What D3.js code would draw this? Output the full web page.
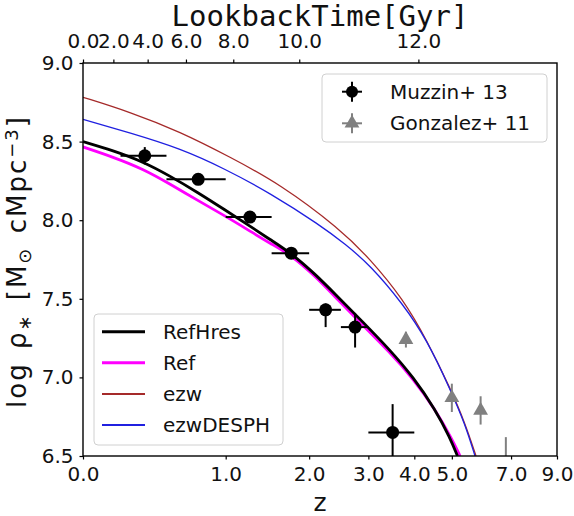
<!DOCTYPE html>
<html><head><meta charset="utf-8">
<script src="https://cdn.jsdelivr.net/npm/d3@7"></script>
<style>body{margin:0;background:#fff}text{font-family:"DejaVu Sans",sans-serif}</style>
</head><body>
<svg id="c" width="574" height="516"></svg>
<script>
// ---- data ----
const muzzinZ   = [0.35, 0.75, 1.25, 1.75, 2.25, 2.75, 3.5];
const muzzinZlo = [0.2, 0.5, 1.0, 1.5, 2.0, 2.5, 3.0];
const muzzinZhi = [0.5, 1.0, 1.5, 2.0, 2.5, 3.0, 4.0];
const muzzinV   = [8.41, 8.26, 8.02, 7.79, 7.43, 7.32, 6.65];
const muzzinUp  = [0.055, 0.03, 0.03, 0.03, 0.04, 0.09, 0.18];
const muzzinDn  = [0.055, 0.03, 0.03, 0.03, 0.11, 0.13, 0.25];

const gonzZ   = [3.8, 5.0, 5.9, 6.8];
const gonzV   = [7.24, 6.87, 6.79, 6.42];
const gonzErr = [0.05, 0.09, 0.09, 0.2];

const refhresZ = [0, 0.157, 0.339, 0.526, 0.748, 0.994, 1.25, 1.48, 1.747, 2.087, 2.435, 2.896, 3.444, 3.968, 4.53, 4.949, 5.166];
const refhresV = [8.50, 8.443, 8.372, 8.281, 8.176, 8.065, 7.963, 7.877, 7.791, 7.658, 7.518, 7.352, 7.174, 7.004, 6.799, 6.615, 6.5];
const refZ = [0, 0.157, 0.339, 0.526, 0.748, 0.994, 1.25, 1.48, 1.747, 2.087, 2.435, 2.896, 3.444, 3.968, 4.53, 5.005, 5.245];
const refV = [8.466, 8.402, 8.326, 8.230, 8.125, 8.027, 7.931, 7.853, 7.779, 7.645, 7.499, 7.330, 7.158, 6.993, 6.799, 6.608, 6.5];
const ezwZ = [0, 0.2563, 0.602, 1.042, 1.604, 2.485, 3.033, 3.733, 4.318, 4.949, 5.397, 5.747];
const ezwV = [8.782, 8.688, 8.563, 8.402, 8.230, 7.944, 7.753, 7.499, 7.235, 6.933, 6.710, 6.5];
const ezwdZ = [0, 0.2563, 0.602, 0.994, 1.480, 2.162, 2.571, 3.033, 3.733, 4.318, 4.949, 5.397, 5.714];
const ezwdV = [8.642, 8.555, 8.457, 8.326, 8.173, 7.969, 7.849, 7.715, 7.467, 7.238, 6.926, 6.704, 6.5];

const zTicks = [0, 1, 2, 3, 4, 5, 7, 9];
const zTickLabels = ["0.0", "1.0", "2.0", "3.0", "4.0", "5.0", "7.0", "9.0"];
const yTicks = [6.5, 7.0, 7.5, 8.0, 8.5, 9.0];
const lookbackZ = [0, 0.159, 0.369, 0.649, 1.075, 1.859, 4.10];
const lookbackLabels = ["0.0", "2.0", "4.0", "6.0", "8.0", "10.0", "12.0"];

const seriesNames = ["RefHres", "Ref", "ezw", "ezwDESPH"];
const pointNames = ["Muzzin+ 13", "Gonzalez+ 11"];

// ---- layout ----
const L = 83, R = 557, T = 63, B = 456;
const svg = d3.select("#c");
const xl = d3.scaleLog().domain([1, 10]).range([L, R]);
const X = z => xl(1 + z);
const Y = d3.scaleLinear().domain([6.5, 9.0]).range([B, T]);

svg.append("defs").append("clipPath").attr("id", "clip")
  .append("rect").attr("x", L).attr("y", T).attr("width", R - L).attr("height", B - T);

const plot = svg.append("g").attr("clip-path", "url(#clip)");

const lineGen = d3.line().x(d => X(d[0])).y(d => Y(d[1])).curve(d3.curveBasis);
const lines = [
  {z: ezwZ, v: ezwV, color: "#a52a2a", w: 1.3},
  {z: ezwdZ, v: ezwdV, color: "#2020e0", w: 1.3},
  {z: refZ, v: refV, color: "#ff00ff", w: 2.8},
  {z: refhresZ, v: refhresV, color: "#000", w: 2.8},
];
lines.forEach(s => {
  plot.append("path").datum(s.z.map((z, i) => [z, s.v[i]]))
    .attr("d", lineGen).attr("fill", "none").attr("stroke", s.color).attr("stroke-width", s.w);
});

// Muzzin points
muzzinZ.forEach((z, i) => {
  const g = plot.append("g");
  g.append("line").attr("x1", X(muzzinZlo[i])).attr("x2", X(muzzinZhi[i]))
    .attr("y1", Y(muzzinV[i])).attr("y2", Y(muzzinV[i])).attr("stroke", "#000").attr("stroke-width", 2);
  g.append("line").attr("x1", X(z)).attr("x2", X(z))
    .attr("y1", Y(muzzinV[i] + muzzinUp[i])).attr("y2", Y(muzzinV[i] - muzzinDn[i])).attr("stroke", "#000").attr("stroke-width", 2);
  g.append("circle").attr("cx", X(z)).attr("cy", Y(muzzinV[i])).attr("r", 6.5).attr("fill", "#000");
});
// Gonzalez points
const tri = d3.symbol().type(d3.symbolTriangle).size(95);
gonzZ.forEach((z, i) => {
  plot.append("line").attr("x1", X(z)).attr("x2", X(z))
    .attr("y1", Y(gonzV[i] + gonzErr[i])).attr("y2", Y(gonzV[i] - gonzErr[i])).attr("stroke", "#808080").attr("stroke-width", 2);
  plot.append("path").attr("d", tri).attr("transform", `translate(${X(z)},${Y(gonzV[i])})`).attr("fill", "#808080");
});

// ---- axes ----
const fs = "20px";
const ax = (g) => { g.select(".domain").remove(); g.selectAll("line").attr("stroke", "#000").attr("stroke-width", 1.2); g.selectAll("text").style("font-size", fs).attr("fill", "#111"); };
svg.append("g").attr("transform", `translate(0,${B})`)
  .call(d3.axisBottom(xl).tickValues(zTicks.map(z => 1 + z)).tickFormat((d, i) => zTickLabels[i]).tickSize(3.5).tickPadding(7.5))
  .call(ax);
svg.append("g").attr("transform", `translate(0,${T})`)
  .call(d3.axisTop(xl).tickValues(lookbackZ.map(z => 1 + z)).tickFormat((d, i) => lookbackLabels[i]).tickSize(3.5).tickPadding(11.5))
  .call(ax);
svg.append("g").attr("transform", `translate(${L},0)`)
  .call(d3.axisLeft(Y).tickValues(yTicks).tickFormat(d3.format(".1f")).tickSize(3.5).tickPadding(6))
  .call(ax);

svg.append("rect").attr("x", L).attr("y", T).attr("width", R - L).attr("height", B - T)
  .attr("fill", "none").attr("stroke", "#000").attr("stroke-width", 1.4);

// axis titles
svg.append("text").attr("x", (L + R) / 2).attr("y", 26).attr("text-anchor", "middle")
  .style("font-family", "'DejaVu Sans Mono', monospace").style("font-size", "29px").attr("fill", "#111")
  .text("LookbackTime[Gyr]");
svg.append("text").attr("x", (L + R) / 2).attr("y", 511).attr("text-anchor", "middle")
  .style("font-size", "25px").attr("fill", "#111").text("z");
const yl = svg.append("text").attr("transform", `translate(26,${(T + B) / 2 + 2}) rotate(-90)`)
  .attr("text-anchor", "middle").style("font-size", "26px").style("letter-spacing", "2px").style("word-spacing", "3px").attr("fill", "#111");
yl.append("tspan").text("log ρ");
yl.append("tspan").attr("dy", 5).style("font-size", "18px").text("∗");
yl.append("tspan").attr("dy", -5).text(" [M");
yl.append("tspan").attr("dy", 5).style("font-size", "18px").text("⊙");
yl.append("tspan").attr("dy", -5).text(" cMpc");
yl.append("tspan").attr("dy", -8).style("font-size", "18px").text("−3");
yl.append("tspan").attr("dy", 8).text("]");

// ---- legend 1 (points) ----
const lg1 = svg.append("g");
lg1.append("rect").attr("x", 322).attr("y", 74).attr("width", 225).attr("height", 68).attr("rx", 4)
  .attr("fill", "rgba(255,255,255,0.8)").attr("stroke", "#d0d0d0");
[0, 1].forEach(i => {
  const cy = 91.7 + i * 31.6, cx = 352;
  const col = i === 0 ? "#000" : "#808080";
  lg1.append("line").attr("x1", cx - 10).attr("x2", cx + 10).attr("y1", cy).attr("y2", cy).attr("stroke", col).attr("stroke-width", 2);
  lg1.append("line").attr("x1", cx).attr("x2", cx).attr("y1", cy - 10).attr("y2", cy + 10).attr("stroke", col).attr("stroke-width", 2);
  if (i === 0) lg1.append("circle").attr("cx", cx).attr("cy", cy).attr("r", 6).attr("fill", col);
  else lg1.append("path").attr("d", tri).attr("transform", `translate(${cx},${cy})`).attr("fill", col);
  lg1.append("text").attr("x", 390).attr("y", cy + 7).style("font-size", fs).attr("fill", "#111").text(pointNames[i]);
});

// ---- legend 2 (lines) ----
const lg2 = svg.append("g");
lg2.append("rect").attr("x", 94).attr("y", 314).attr("width", 189).attr("height", 131).attr("rx", 4)
  .attr("fill", "rgba(255,255,255,0.8)").attr("stroke", "#d0d0d0");
const legLines = [lines[3], lines[2], lines[0], lines[1]];
seriesNames.forEach((n, i) => {
  const cy = 331.7 + i * 31.1;
  lg2.append("line").attr("x1", 102).attr("x2", 145).attr("y1", cy).attr("y2", cy)
    .attr("stroke", legLines[i].color).attr("stroke-width", i < 2 ? 3 : 2);
  lg2.append("text").attr("x", 163).attr("y", cy + 7).style("font-size", fs).attr("fill", "#111").text(n);
});
</script>
</body></html>
